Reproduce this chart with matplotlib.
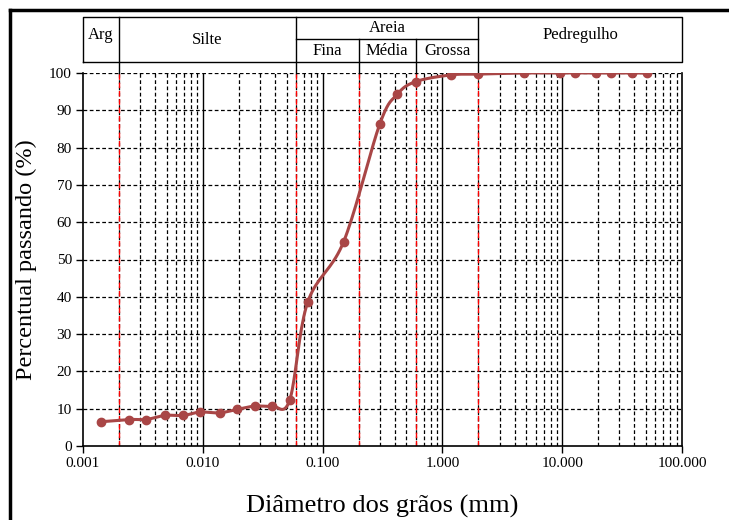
import numpy as np
import matplotlib
matplotlib.use("Agg")
import matplotlib.pyplot as plt
import matplotlib.transforms as mtransforms

plt.rcParams['font.family'] = ['Liberation Serif', 'DejaVu Serif']

# granulometric curve data (diameter mm, percent passing)
diam = [0.00141, 0.00244, 0.00336, 0.00485, 0.0069, 0.0095, 0.0138, 0.0193,
        0.0271, 0.0378, 0.0531, 0.075, 0.15, 0.30, 0.42, 0.60, 1.19, 2.0,
        4.76, 9.52, 12.7, 19.1, 25.4, 38.1, 50.8]
passing = [6.5, 7.1, 7.1, 8.2, 8.2, 9.1, 8.9, 9.8,
           10.7, 10.7, 12.3, 38.5, 54.8, 86.3, 94.3, 97.7, 99.5, 99.7,
           100, 100, 100, 100, 100, 100, 100]

# class boundaries (mm)
bounds = [0.002, 0.06, 0.2, 0.6, 2.0]
xticks = [0.001, 0.01, 0.1, 1, 10, 100]
xticklabels = ['0.001', '0.010', '0.100', '1.000', '10.000', '100.000']
yticks = list(range(0, 101, 10))

curve_color = '#A94646'


def catmull_rom(xs, ys, n=20):
    # smooth line through the points like the spreadsheet "smoothed line"
    px = np.array(xs, float)
    py = np.array(ys, float)
    px = np.concatenate([[2 * px[0] - px[1]], px, [2 * px[-1] - px[-2]]])
    py = np.concatenate([[2 * py[0] - py[1]], py, [2 * py[-1] - py[-2]]])
    outx, outy = [], []
    t = np.linspace(0, 1, n)
    for i in range(1, len(px) - 2):
        p0, p1, p2, p3 = [np.array([px[j], py[j]]) for j in (i - 1, i, i + 1, i + 2)]
        for tt in t:
            pt = 0.5 * ((2 * p1) + (-p0 + p2) * tt +
                        (2 * p0 - 5 * p1 + 4 * p2 - p3) * tt ** 2 +
                        (-p0 + 3 * p1 - 3 * p2 + p3) * tt ** 3)
            outx.append(pt[0])
            outy.append(pt[1])
    return np.array(outx), np.array(outy)


fig = plt.figure(figsize=(7.29, 5.2), dpi=100)
ax = fig.add_axes([83 / 729, 1 - 446 / 520, (682 - 83) / 729, (446 - 73) / 520])

ax.set_xscale('log')
ax.set_xlim(0.001, 100)
ax.set_ylim(0, 100)

# grid
for v in yticks[1:]:
    ax.axhline(v, color='black', lw=0.9, ls=(0, (3, 2)), zorder=1)
for dec in [0.001, 0.01, 0.1, 1, 10]:
    for k in range(2, 10):
        ax.axvline(dec * k, color='black', lw=0.9, ls=(0, (3, 2)), zorder=1)
for dec in [0.01, 0.1, 1, 10]:
    ax.axvline(dec, color='black', lw=1.0, zorder=1)
for b in bounds:
    ax.axvline(b, color='red', lw=1.0, ls=(0, (4, 2)), zorder=2)

# curve
lx, ly = catmull_rom(np.log10(diam), passing)
ax.plot(10 ** lx, ly, color=curve_color, lw=2.2, zorder=3, solid_capstyle='round')
ax.plot(diam, passing, 'o', color=curve_color, ms=6, zorder=4)

ax.set_xticks(xticks)
ax.set_xticklabels(xticklabels)
ax.set_yticks(yticks)
ax.minorticks_off()
ax.tick_params(axis='both', direction='out', length=5, width=1, labelsize=11, pad=3)
ax.spines['top'].set_visible(False)
for s in ['left', 'right', 'bottom']:
    ax.spines[s].set_linewidth(1.2)

ax.set_ylabel('Percentual passando (%)', fontsize=17.5, labelpad=9)
ax.set_xlabel('Diâmetro dos grãos (mm)', fontsize=19, labelpad=18)

# classification table above the axes
trans = mtransforms.blended_transform_factory(ax.transData, ax.transAxes)
y_bot, y_mid, y_top = 1.0295, 1.091, 1.150
kw = dict(color='black', lw=1.0, transform=trans, clip_on=False)
ax.plot([0.001, 100, 100, 0.001, 0.001], [y_bot, y_bot, y_top, y_top, y_bot], **kw)
ax.plot([0.06, 2.0], [y_mid, y_mid], **kw)
for b in [0.002, 0.06, 2.0]:
    ax.plot([b, b], [1.0, y_top], **kw)
for b in [0.2, 0.6]:
    ax.plot([b, b], [1.0, y_mid], **kw)

def mid(a, b):
    return 10 ** ((np.log10(a) + np.log10(b)) / 2)

tk = dict(transform=trans, ha='center', va='center', fontsize=12, clip_on=False)
ax.text(mid(0.001, 0.002), (y_bot + y_top) / 2 + 0.012, 'Arg', **tk)
ax.text(mid(0.002, 0.06), (y_bot + y_top) / 2, 'Silte', **tk)
ax.text(mid(0.06, 2.0), (y_mid + y_top) / 2, 'Areia', **tk)
ax.text(mid(0.06, 0.2), (y_bot + y_mid) / 2, 'Fina', **tk)
ax.text(mid(0.2, 0.6), (y_bot + y_mid) / 2, 'Média', **tk)
ax.text(mid(0.6, 2.0), (y_bot + y_mid) / 2, 'Grossa', **tk)
ax.text(mid(2.0, 100), (y_bot + y_top) / 2 + 0.012, 'Pedregulho', **tk)

# frame of the original picture (top and left edges visible)
fig.add_artist(plt.Line2D([10 / 729, 10 / 729], [0, 1 - 10 / 520], color='black', lw=2.5))
fig.add_artist(plt.Line2D([10 / 729, 1], [1 - 10 / 520, 1 - 10 / 520], color='black', lw=2.5))

fig.savefig('out.png', dpi=100)
